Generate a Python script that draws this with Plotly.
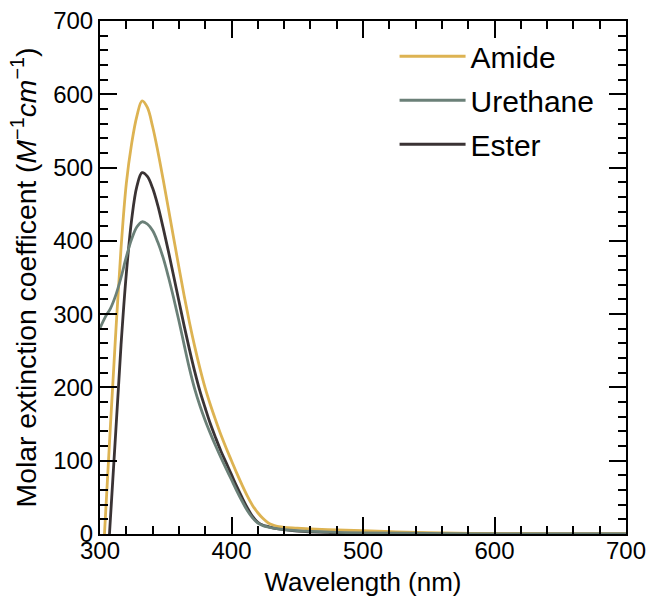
import plotly.graph_objects as go

# ---- data ----
amide_wl = [303.4, 308, 312, 316, 320, 324, 328, 332, 336, 340, 344, 348, 352, 356, 360, 364, 368, 372, 376,
            380, 384, 388, 392, 396, 400, 404, 408, 412, 416, 420, 424, 428, 432, 436, 440, 450, 460, 480,
            500, 525, 550, 600, 650, 700]
amide = [0, 150, 275, 390, 478, 532, 570, 591, 582, 556, 522, 484, 444, 404, 364, 325, 289, 256, 226,
         199, 176, 155, 135, 117, 100, 83, 67, 52, 39, 29, 21, 15, 12, 10, 9, 8, 7, 5.5,
         4.5, 3, 1.8, 0.6, 0.2, 0]

urethane_wl = [300, 304, 308, 312, 316, 320, 324, 328, 332, 336, 340, 344, 348, 352, 356, 360, 364, 368,
               372, 376, 380, 384, 388, 392, 396, 400, 404, 408, 412, 416, 420, 424, 428, 432, 440, 450,
               475, 500, 550, 600, 700]
urethane = [281, 296, 308, 326, 350, 378, 402, 419, 426, 423, 414, 398, 377, 351, 322, 291, 258, 226,
            198, 175, 155, 137, 120, 104, 89, 74, 59, 45, 32, 22, 15, 11.5, 9.5, 8, 6, 4.5,
            2.5, 1.5, 0.8, 0.3, 0]

ester_wl = [307.2, 312, 316, 320, 324, 328, 332, 336, 340, 344, 348, 352, 356, 360, 364, 368, 372, 376,
            380, 384, 388, 392, 396, 400, 404, 408, 412, 416, 420, 424, 428, 432, 440, 450, 475, 500,
            550, 700]
ester = [0, 140, 258, 355, 428, 474, 493, 488, 472, 448, 418, 386, 352, 318, 284, 252, 222, 195,
         172, 150, 131, 113, 97, 81, 65, 50, 36, 24, 16, 12, 10, 8, 6, 4, 2, 1,
         0.5, 0]

x_ticks = [300, 400, 500, 600, 700]
y_ticks = [0, 100, 200, 300, 400, 500, 600, 700]

# ---- styles ----
C_AMIDE = "#DDB352"
C_URETHANE = "#6B8078"
C_ESTER = "#3A3334"
FONT = "Liberation Sans, Arial, sans-serif"
LW = 2.8

fig = go.Figure()
fig.add_trace(go.Scatter(x=ester_wl, y=ester, mode="lines", name="Ester", legendrank=3, legendgroup="c",
                         line=dict(color=C_ESTER, width=LW, shape="spline", smoothing=1.0)))
fig.add_trace(go.Scatter(x=amide_wl, y=amide, mode="lines", name="Amide", legendrank=1, legendgroup="a",
                         line=dict(color=C_AMIDE, width=LW, shape="spline", smoothing=1.0)))
fig.add_trace(go.Scatter(x=urethane_wl, y=urethane, mode="lines", name="Urethane", legendrank=2, legendgroup="b",
                         line=dict(color=C_URETHANE, width=LW, shape="spline", smoothing=1.0)))

axis_common = dict(
    ticks="inside", ticklen=17, tickwidth=2, tickcolor="black",
    showline=True, linecolor="black", linewidth=2, mirror="allticks",
    showgrid=False, zeroline=False, ticklabeloverflow="allow",
    tickfont=dict(size=24, color="black", family=FONT),
)

fig.update_xaxes(range=[300, 700], tickmode="array", tickvals=x_ticks, ticktext=[str(v) for v in x_ticks],
                 minor=dict(dtick=20, tick0=300, ticks="inside", ticklen=8, tickwidth=1.5, tickcolor="black"),
                 ticklabelstandoff=-6,
                 title=dict(text="Wavelength (nm)", font=dict(size=26, color="black", family=FONT), standoff=10),
                 **axis_common)
fig.update_yaxes(range=[0, 700], tickmode="array", tickvals=y_ticks, ticktext=[str(v) for v in y_ticks],
                 minor=dict(dtick=20, tick0=0, ticks="inside", ticklen=8, tickwidth=1.5, tickcolor="black"),
                 title=dict(text="Molar extinction coefficent (<i>M</i><sup>−1</sup><i>cm</i><sup>−1</sup>)",
                            font=dict(size=28.3, color="black", family=FONT), standoff=8),
                 **axis_common)

fig.update_layout(
    width=651, height=598,
    margin=dict(l=100, r=25, t=21, b=64, autoexpand=False),
    paper_bgcolor="white", plot_bgcolor="white",
    font=dict(family=FONT, color="black"),
    legend=dict(x=0.56, y=0.982, xanchor="left", yanchor="top", bgcolor="rgba(0,0,0,0)",
                font=dict(size=30, color="black", family=FONT), tracegroupgap=2, itemwidth=66),
)

fig.write_html(
    "out.html",
    config={"displayModeBar": False},
    post_script="document.body.style.margin='0';document.body.style.overflow='hidden';",
)
